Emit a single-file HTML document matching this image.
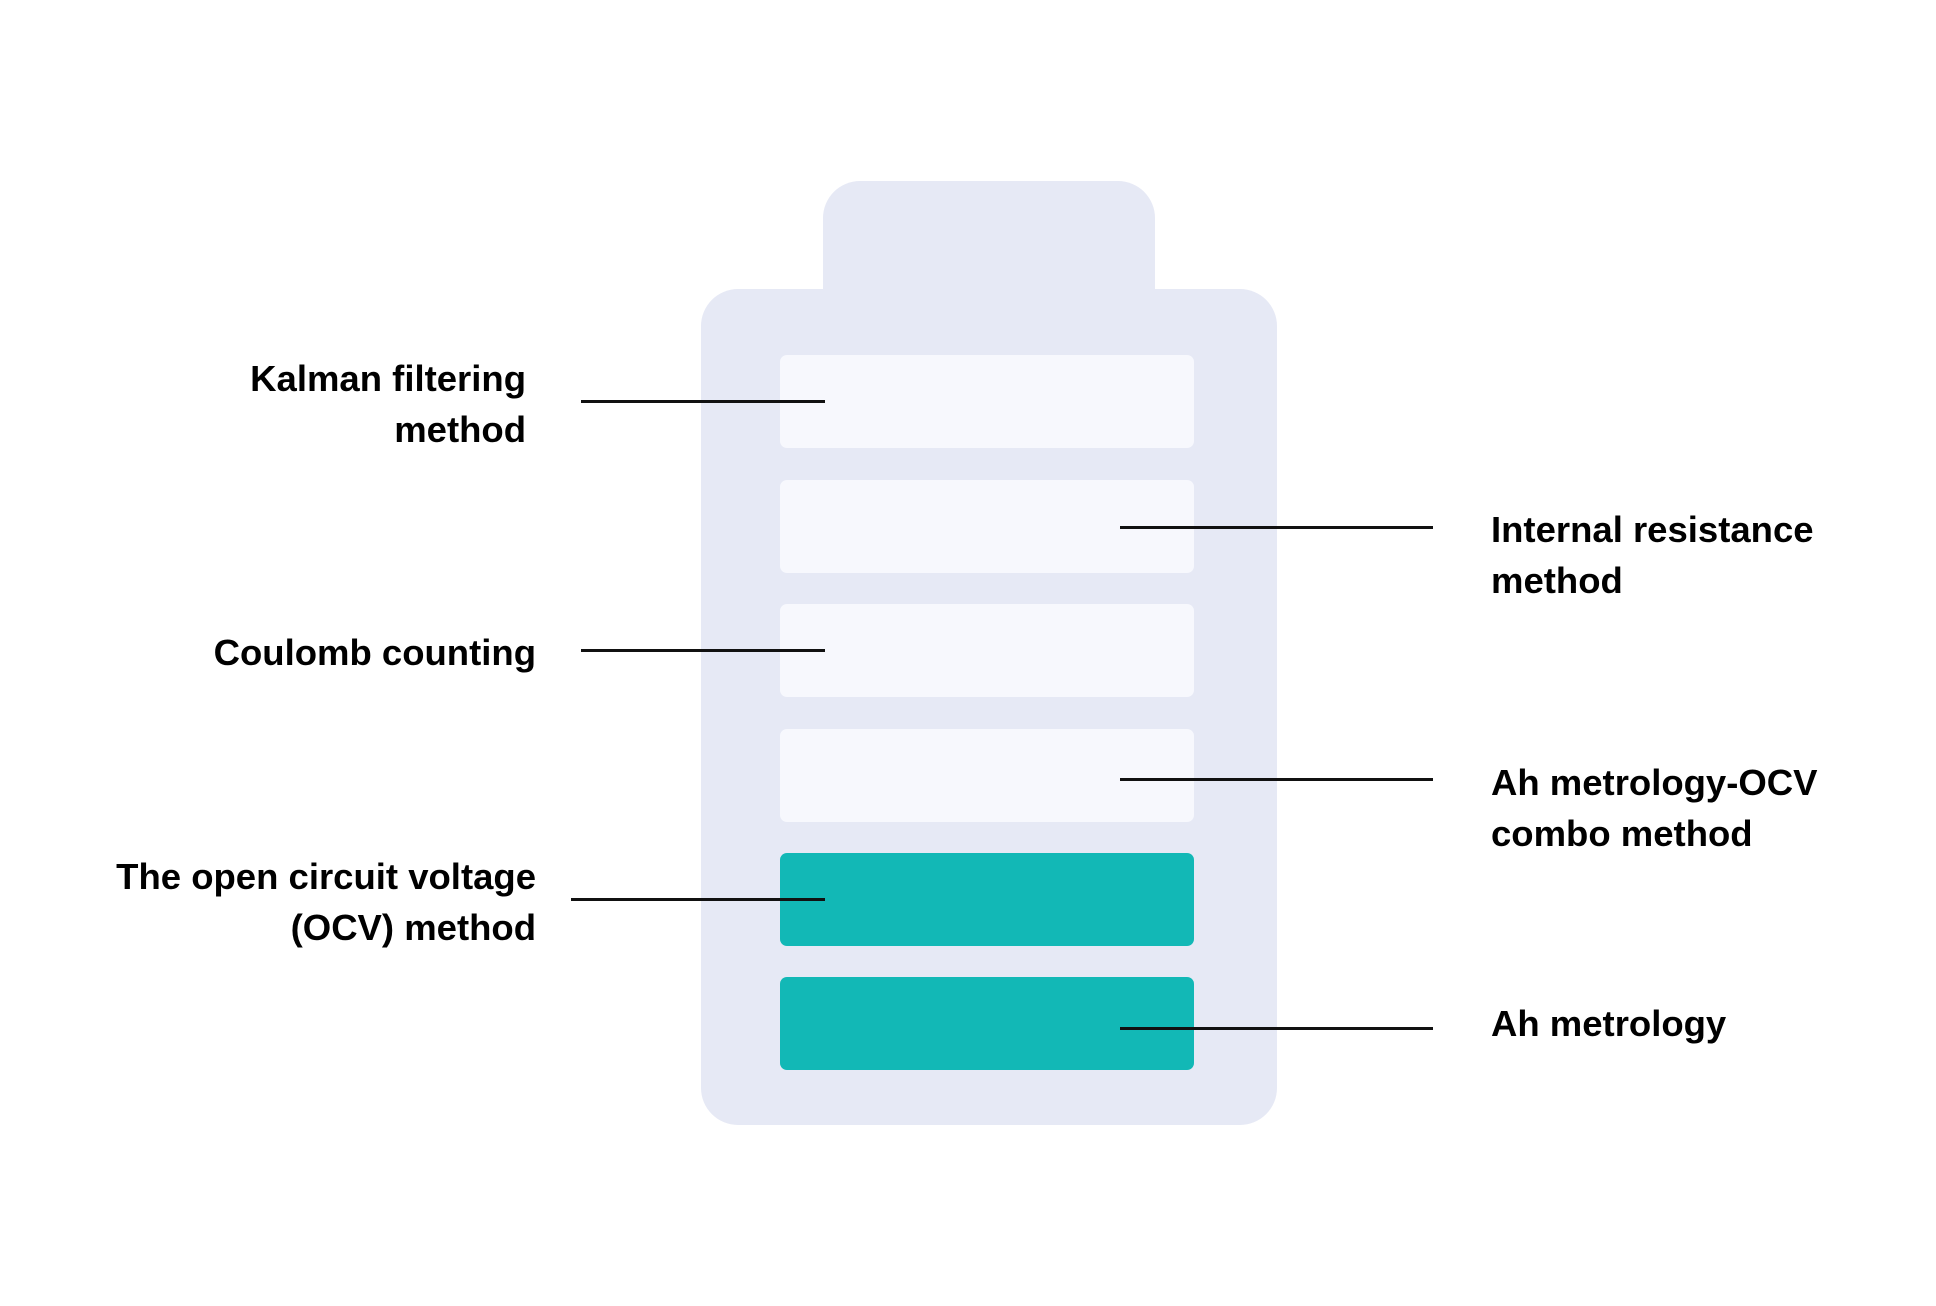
<!DOCTYPE html>
<html><head><meta charset="utf-8"><style>
html,body{margin:0;padding:0;background:#fff;}
body{width:1936px;height:1306px;position:relative;overflow:hidden;font-family:"Liberation Sans",sans-serif;}
.a{position:absolute;}
.bar{position:absolute;left:780px;width:414px;height:93px;border-radius:7px;background:#F7F8FD;}
.t{background:#12B8B6;}
.ln{position:absolute;height:3px;background:#111;}
.tx{position:absolute;font-weight:bold;font-size:36.5px;line-height:51px;color:#000;white-space:nowrap;}
.r{text-align:right;}
</style></head><body>
<div class="a" style="left:823px;top:181px;width:332px;height:140px;background:#E6E9F5;border-radius:37px 37px 0 0;"></div>
<div class="a" style="left:701px;top:289px;width:576px;height:836px;background:#E6E9F5;border-radius:37px;"></div>
<div class="bar" style="top:355px"></div>
<div class="bar" style="top:480px"></div>
<div class="bar" style="top:604px"></div>
<div class="bar" style="top:729px"></div>
<div class="bar t" style="top:853px"></div>
<div class="bar t" style="top:977px"></div>
<div class="ln" style="left:581px;width:244px;top:400px"></div>
<div class="ln" style="left:581px;width:244px;top:649px"></div>
<div class="ln" style="left:571px;width:254px;top:898px"></div>
<div class="ln" style="left:1120px;width:313px;top:526px"></div>
<div class="ln" style="left:1120px;width:313px;top:778px"></div>
<div class="ln" style="left:1120px;width:313px;top:1027px"></div>
<div class="tx r" style="right:1410px;top:353px">Kalman filtering<br>method</div>
<div class="tx r" style="right:1400px;top:627px">Coulomb counting</div>
<div class="tx r" style="right:1400px;top:851px">The open circuit voltage<br>(OCV) method</div>
<div class="tx" style="left:1491px;top:504px">Internal resistance<br>method</div>
<div class="tx" style="left:1491px;top:757px">Ah metrology-OCV<br>combo method</div>
<div class="tx" style="left:1491px;top:998px">Ah metrology</div>
</body></html>
